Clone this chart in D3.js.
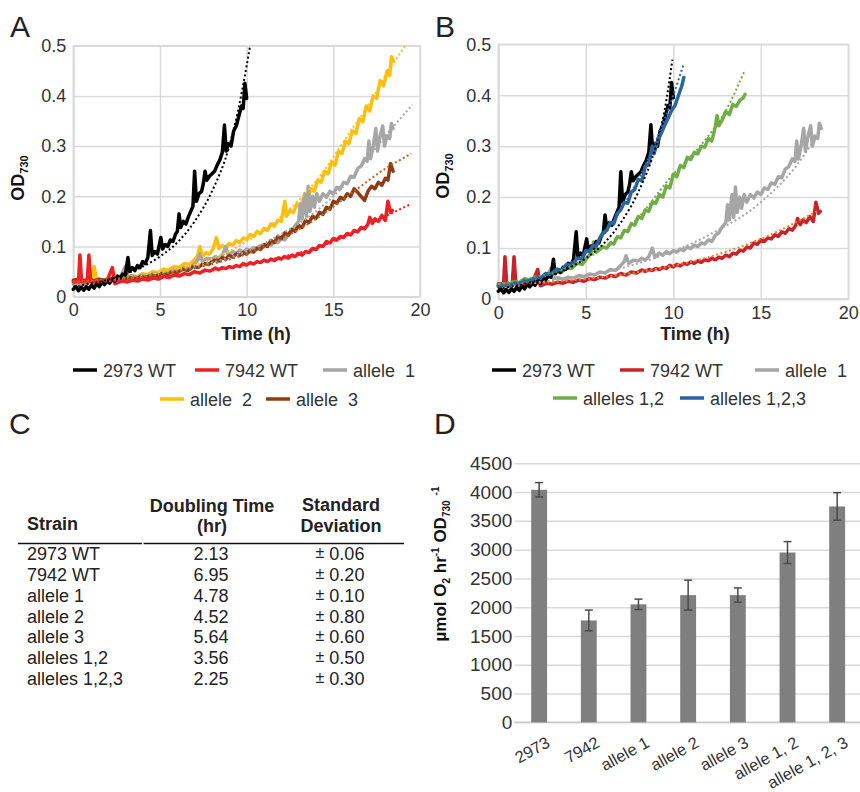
<!DOCTYPE html>
<html><head><meta charset="utf-8">
<script src="https://cdn.jsdelivr.net/npm/d3@7/dist/d3.min.js"></script>
<style>
body{margin:0;background:#fff}
svg text{font-family:"Liberation Sans",Arial,Helvetica,sans-serif}
</style>
</head><body>
<svg id="c" width="860" height="792"></svg>
<script>
// ---------- DATA ----------
// Growth curves: [time (h), OD730]
const wt2973 = [[0,0.015],[0.15,0.02],[0.3,0.012],[0.45,0.019],[0.6,0.013],[0.75,0.02],[0.9,0.015],[1.05,0.023],[1.2,0.017],[1.35,0.026],[1.5,0.02],[1.65,0.029],[1.8,0.024],[1.95,0.032],[2.1,0.027],[2.25,0.036],[2.4,0.031],[2.55,0.041],[2.7,0.037],[2.85,0.045],[3.0,0.043],[3.15,0.078],[3.25,0.05],[3.4,0.058],[3.55,0.052],[3.7,0.062],[3.85,0.058],[4.0,0.07],[4.15,0.066],[4.3,0.078],[4.45,0.132],[4.55,0.082],[4.7,0.09],[4.85,0.085],[5.05,0.118],[5.15,0.095],[5.3,0.104],[5.45,0.1],[5.6,0.113],[5.75,0.11],[5.9,0.125],[6.0,0.13],[6.1,0.165],[6.2,0.138],[6.35,0.15],[6.5,0.145],[6.65,0.16],[6.8,0.172],[6.9,0.18],[7.0,0.25],[7.1,0.19],[7.25,0.205],[7.4,0.21],[7.5,0.225],[7.6,0.25],[7.7,0.232],[7.85,0.24],[8.0,0.245],[8.15,0.25],[8.3,0.262],[8.45,0.272],[8.6,0.288],[8.72,0.342],[8.82,0.29],[8.95,0.305],[9.1,0.3],[9.25,0.33],[9.4,0.34],[9.55,0.36],[9.7,0.38],[9.8,0.375],[9.9,0.425],[10.0,0.395]];
const wt2973TrendA = [[0,0.02],[1,0.026],[2,0.034],[3,0.045],[4,0.06],[5,0.08],[6,0.108],[7,0.15],[8,0.21],[9,0.3],[9.5,0.37],[10,0.46],[10.2,0.5]];
const wt2973TrendB = [[0,0.02],[1,0.026],[2,0.034],[3,0.045],[4,0.06],[5,0.08],[6,0.108],[7,0.15],[8,0.21],[9,0.3],[9.5,0.37],[9.95,0.47]];

const wt7942 = [[0,0.03],[0.3,0.03],[0.38,0.083],[0.48,0.03],[0.8,0.03],[0.9,0.083],[1.0,0.03],[1.4,0.031],[1.9,0.028],[2.25,0.058],[2.4,0.026],[2.8,0.031],[3.1,0.029],[3.4,0.033],[3.7,0.031],[4.0,0.035],[4.3,0.033],[4.6,0.037],[4.9,0.035],[5.2,0.04],[5.5,0.038],[5.8,0.043],[6.1,0.041],[6.4,0.046],[6.7,0.044],[7.0,0.05],[7.3,0.047],[7.6,0.053],[7.9,0.051],[8.2,0.057],[8.4,0.054],[8.6,0.058],[8.8,0.056],[9.0,0.06],[9.2,0.058],[9.4,0.062],[9.6,0.06],[9.8,0.066],[10.0,0.063],[10.2,0.068],[10.4,0.065],[10.6,0.07],[10.8,0.068],[11.0,0.073],[11.2,0.07],[11.4,0.075],[11.6,0.072],[11.8,0.077],[12.0,0.075],[12.2,0.08],[12.4,0.077],[12.6,0.082],[12.8,0.08],[13.0,0.086],[13.2,0.083],[13.4,0.09],[13.6,0.088],[13.8,0.096],[14.0,0.094],[14.2,0.102],[14.4,0.1],[14.6,0.11],[14.8,0.107],[15.0,0.116],[15.2,0.113],[15.4,0.12],[15.6,0.118],[15.8,0.126],[16.0,0.123],[16.2,0.132],[16.4,0.129],[16.6,0.138],[16.8,0.135],[17.0,0.145],[17.1,0.158],[17.25,0.146],[17.4,0.155],[17.6,0.15],[17.8,0.162],[18.0,0.152],[18.15,0.19],[18.3,0.168],[18.4,0.172]];
const wt7942TrendA = [[0,0.027],[2,0.031],[4,0.036],[6,0.043],[8,0.052],[10,0.064],[12,0.079],[14,0.097],[16,0.125],[18,0.16],[19.5,0.185]];
const wt7942TrendB = [[0,0.028],[4,0.036],[8,0.053],[12,0.082],[15,0.118],[18.2,0.172]];

const allele1 = [[0,0.025],[0.3,0.028],[0.6,0.025],[0.9,0.029],[1.2,0.027],[1.5,0.031],[1.8,0.029],[2.1,0.033],[2.4,0.031],[2.65,0.036],[2.8,0.045],[3.0,0.06],[3.15,0.04],[3.4,0.042],[3.7,0.039],[4.0,0.043],[4.3,0.041],[4.6,0.046],[4.9,0.044],[5.2,0.049],[5.5,0.047],[5.8,0.053],[6.1,0.051],[6.4,0.058],[6.7,0.056],[7.0,0.066],[7.2,0.074],[7.3,0.085],[7.45,0.07],[7.7,0.076],[8.0,0.075],[8.2,0.08],[8.4,0.077],[8.6,0.083],[8.8,0.1],[8.95,0.082],[9.2,0.09],[9.4,0.086],[9.6,0.093],[9.8,0.089],[10.0,0.095],[10.2,0.092],[10.4,0.098],[10.6,0.095],[10.8,0.102],[11.0,0.099],[11.2,0.106],[11.4,0.103],[11.6,0.11],[11.8,0.108],[12.0,0.116],[12.2,0.113],[12.4,0.125],[12.6,0.13],[12.8,0.142],[13.0,0.15],[13.1,0.185],[13.2,0.155],[13.35,0.205],[13.45,0.16],[13.55,0.22],[13.65,0.17],[13.8,0.2],[13.9,0.178],[14.05,0.205],[14.2,0.19],[14.4,0.205],[14.6,0.198],[14.8,0.21],[15.0,0.205],[15.2,0.218],[15.4,0.215],[15.6,0.228],[15.8,0.225],[16.0,0.24],[16.2,0.238],[16.4,0.255],[16.6,0.26],[16.8,0.275],[16.95,0.27],[17.05,0.31],[17.15,0.275],[17.3,0.3],[17.45,0.335],[17.55,0.29],[17.7,0.32],[17.85,0.34],[17.95,0.3],[18.1,0.32],[18.25,0.315],[18.35,0.345],[18.45,0.335]];
const allele1TrendA = [[0,0.025],[2,0.031],[4,0.04],[6,0.052],[8,0.068],[10,0.09],[12,0.125],[14,0.17],[16,0.235],[18,0.32],[19.55,0.382]];
const allele1TrendB = [[0,0.028],[4,0.04],[8,0.07],[12,0.125],[15,0.19],[17,0.26],[18.2,0.32]];

const allele2 = [[0,0.03],[0.5,0.032],[1.0,0.03],[1.2,0.06],[1.35,0.032],[1.6,0.034],[1.9,0.032],[2.2,0.036],[2.5,0.034],[2.8,0.039],[3.1,0.037],[3.4,0.042],[3.7,0.04],[4.0,0.046],[4.3,0.044],[4.6,0.05],[4.9,0.048],[5.2,0.055],[5.5,0.053],[5.8,0.06],[6.1,0.058],[6.4,0.066],[6.7,0.064],[7.0,0.074],[7.15,0.08],[7.3,0.1],[7.45,0.08],[7.65,0.088],[7.85,0.085],[8.05,0.094],[8.25,0.118],[8.4,0.096],[8.6,0.102],[8.8,0.098],[9.0,0.106],[9.2,0.103],[9.4,0.112],[9.6,0.108],[9.8,0.117],[10.0,0.114],[10.2,0.124],[10.4,0.12],[10.6,0.13],[10.8,0.126],[11.0,0.136],[11.2,0.132],[11.4,0.145],[11.6,0.14],[11.8,0.152],[12.0,0.15],[12.2,0.19],[12.3,0.16],[12.5,0.172],[12.7,0.168],[12.9,0.185],[13.1,0.18],[13.3,0.198],[13.5,0.192],[13.7,0.215],[13.9,0.21],[14.1,0.232],[14.3,0.228],[14.5,0.25],[14.7,0.245],[14.9,0.268],[15.1,0.262],[15.3,0.29],[15.5,0.285],[15.7,0.31],[15.9,0.305],[16.1,0.33],[16.3,0.325],[16.5,0.355],[16.7,0.348],[16.9,0.38],[17.1,0.37],[17.3,0.4],[17.5,0.395],[17.7,0.43],[17.9,0.42],[18.1,0.45],[18.25,0.44],[18.35,0.478],[18.45,0.47]];
const allele2TrendA = [[0,0.028],[2,0.034],[4,0.042],[6,0.055],[8,0.075],[10,0.11],[12,0.16],[14,0.23],[16,0.33],[17,0.38],[18,0.44],[19.15,0.5]];

const allele3 = [[0,0.033],[0.3,0.035],[0.6,0.032],[0.9,0.035],[1.2,0.032],[1.5,0.035],[1.8,0.033],[2.1,0.036],[2.4,0.034],[2.7,0.037],[3.0,0.035],[3.3,0.038],[3.6,0.036],[3.9,0.04],[4.2,0.038],[4.5,0.043],[4.8,0.041],[5.1,0.046],[5.4,0.044],[5.7,0.05],[6.0,0.048],[6.3,0.055],[6.6,0.052],[6.9,0.06],[7.2,0.058],[7.5,0.066],[7.8,0.064],[8.0,0.07],[8.2,0.074],[8.4,0.071],[8.6,0.078],[8.8,0.075],[9.0,0.082],[9.2,0.079],[9.4,0.085],[9.6,0.082],[9.8,0.088],[10.0,0.085],[10.2,0.092],[10.4,0.089],[10.6,0.097],[10.8,0.094],[11.0,0.104],[11.2,0.1],[11.4,0.112],[11.6,0.108],[11.8,0.12],[12.0,0.116],[12.2,0.127],[12.4,0.122],[12.6,0.134],[12.8,0.13],[13.0,0.142],[13.2,0.138],[13.4,0.152],[13.6,0.148],[13.8,0.16],[14.0,0.156],[14.2,0.168],[14.4,0.164],[14.6,0.178],[14.8,0.174],[15.0,0.19],[15.2,0.186],[15.4,0.198],[15.6,0.194],[15.8,0.205],[16.0,0.2],[16.2,0.215],[16.4,0.208],[16.6,0.2],[16.8,0.192],[17.0,0.21],[17.2,0.22],[17.4,0.215],[17.6,0.228],[17.8,0.222],[18.0,0.236],[18.15,0.232],[18.3,0.265],[18.45,0.25]];
const allele3TrendA = [[0,0.03],[2,0.034],[4,0.04],[6,0.05],[8,0.065],[10,0.085],[12,0.115],[14,0.155],[16,0.205],[18,0.255],[19.5,0.285]];

const alleles12 = [[0,0.027],[0.3,0.03],[0.6,0.028],[0.9,0.034],[1.2,0.032],[1.5,0.04],[1.8,0.037],[2.1,0.043],[2.4,0.041],[2.7,0.048],[3.0,0.046],[3.3,0.054],[3.6,0.052],[3.9,0.062],[4.2,0.06],[4.5,0.07],[4.8,0.068],[5.1,0.082],[5.3,0.09],[5.45,0.112],[5.6,0.092],[5.8,0.098],[6.0,0.102],[6.2,0.1],[6.4,0.11],[6.6,0.108],[6.8,0.122],[7.0,0.12],[7.2,0.135],[7.4,0.132],[7.6,0.148],[7.8,0.145],[8.0,0.162],[8.2,0.158],[8.4,0.175],[8.6,0.172],[8.8,0.19],[9.0,0.188],[9.2,0.205],[9.4,0.2],[9.6,0.222],[9.8,0.218],[10.0,0.245],[10.2,0.24],[10.4,0.262],[10.6,0.258],[10.8,0.278],[11.0,0.274],[11.2,0.288],[11.4,0.285],[11.6,0.3],[11.8,0.298],[12.0,0.315],[12.2,0.31],[12.4,0.338],[12.5,0.36],[12.6,0.34],[12.8,0.352],[13.0,0.368],[13.2,0.362],[13.4,0.382],[13.6,0.378],[13.8,0.39],[14.0,0.395],[14.1,0.402]];
const alleles12TrendB = [[0,0.03],[2,0.042],[4,0.062],[6,0.1],[8,0.16],[10,0.245],[11,0.28],[12,0.32],[13,0.37],[14.1,0.45]];

const alleles123 = [[0,0.025],[0.3,0.028],[0.6,0.026],[0.9,0.032],[1.2,0.03],[1.5,0.037],[1.8,0.035],[2.1,0.042],[2.4,0.04],[2.7,0.05],[3.0,0.048],[3.3,0.058],[3.6,0.056],[3.9,0.068],[4.2,0.066],[4.5,0.08],[4.8,0.078],[5.0,0.095],[5.2,0.093],[5.4,0.105],[5.6,0.103],[5.8,0.12],[6.0,0.13],[6.2,0.135],[6.4,0.15],[6.6,0.148],[6.8,0.168],[7.0,0.175],[7.2,0.19],[7.4,0.188],[7.6,0.21],[7.8,0.215],[8.0,0.235],[8.2,0.232],[8.4,0.26],[8.6,0.265],[8.8,0.3],[8.9,0.285],[9.1,0.31],[9.3,0.325],[9.5,0.34],[9.7,0.355],[9.9,0.37],[10.1,0.38],[10.3,0.4],[10.5,0.42],[10.6,0.435]];
const alleles123TrendB = [[0,0.025],[2,0.04],[4,0.068],[6,0.125],[7,0.175],[8,0.235],[9,0.31],[10,0.4],[10.6,0.462]];

const timeTicks = [0,5,10,15,20];
const odTicks = [0,0.1,0.2,0.3,0.4,0.5];
const odTickLabels = ["0","0.1","0.2","0.3","0.4","0.5"];

// Panel C table
const tableStrains = ["2973 WT","7942 WT","allele 1","allele 2","allele 3","alleles 1,2","alleles 1,2,3"];
const doublingTimes = ["2.13","6.95","4.78","4.52","5.64","3.56","2.25"];
const stdDevs = ["0.06","0.20","0.10","0.80","0.60","0.50","0.30"];

// Panel D bars
const o2Categories = ["2973","7942","allele 1","allele 2","allele 3","allele 1, 2","allele 1, 2, 3"];
const o2Values = [4040,1770,2050,2210,2210,2950,3750];
const o2Errors = [125,180,90,260,125,190,240];
const o2Ticks = [0,500,1000,1500,2000,2500,3000,3500,4000,4500];

// ---------- DRAWING ----------
const svg = d3.select("#c");
const TXT = "#333";
const GRID = "#d9d9d9";

function growthPanel(o){
  const x = d3.scaleLinear().domain([0,20]).range([o.left,o.right]);
  const y = d3.scaleLinear().domain([0,0.5]).range([o.bottom,o.top]);
  const g = svg.append("g");
  const gx = g.append("g").attr("transform",`translate(0,${o.bottom})`)
    .call(d3.axisBottom(x).tickValues(timeTicks).tickSize(-(o.bottom-o.top)).tickSizeOuter(0).tickPadding(o.xpad).tickFormat(d3.format("d")));
  const gy = g.append("g").attr("transform",`translate(${o.left},0)`)
    .call(d3.axisLeft(y).tickValues(odTicks).tickSize(-(o.right-o.left)).tickSizeOuter(0).tickPadding(7).tickFormat((d,i)=>odTickLabels[i]));
  [gx,gy].forEach(a=>{
    a.selectAll(".domain").attr("stroke",GRID).attr("stroke-width",1.5);
    a.selectAll(".tick line").attr("stroke",GRID).attr("stroke-width",1.5);
    a.selectAll("text").attr("font-size",18).attr("fill",TXT).attr("font-family",'"Liberation Sans",Arial,sans-serif');
  });
  g.append("rect").attr("x",o.left).attr("y",o.top).attr("width",o.right-o.left).attr("height",o.bottom-o.top)
    .attr("fill","none").attr("stroke",GRID).attr("stroke-width",1.5);
  const line = d3.line().x(d=>x(d[0])).y(d=>y(d[1]));
  const tline = d3.line().x(d=>x(d[0])).y(d=>y(d[1])).curve(d3.curveMonotoneX);
  const lg = g.append("g");
  o.series.forEach(s=>{
    lg.append("path").datum(s.data).attr("d",line).attr("fill","none").attr("stroke",s.color)
      .attr("stroke-width",3.5).attr("stroke-linejoin","round").attr("stroke-linecap","round");
  });
  o.series.forEach(s=>{
    if(!s.trend) return;
    lg.append("path").datum(s.trend).attr("d",tline).attr("fill","none").attr("stroke",s.tcolor||s.color)
      .attr("stroke-width",2).attr("stroke-dasharray","2 2.5");
  });
  const t = g.append("text").attr("transform",`translate(${o.ylabX},${o.ylabY}) rotate(-90)`)
    .attr("text-anchor","middle").attr("font-weight","bold").attr("font-size",18).attr("fill","#111");
  t.append("tspan").text("OD");
  t.append("tspan").attr("font-size",11).attr("dy",4).text("730");
  g.append("text").attr("x",o.xtX).attr("y",340).attr("text-anchor","middle").attr("font-weight","bold")
    .attr("font-size",18).attr("fill","#222").text("Time (h)");
  g.append("text").attr("x",o.letterX).attr("y",37).attr("font-size",30).attr("fill","#222").text(o.letter);
  o.legend.forEach(l=>{
    g.append("line").attr("x1",l.x).attr("x2",l.x+24).attr("y1",l.y).attr("y2",l.y).attr("stroke",l.color).attr("stroke-width",3.5);
    g.append("text").attr("x",l.x+30).attr("y",l.y+6.5).attr("font-size",18).attr("fill",TXT).text(l.name);
  });
}

const cBlack="#000000", cRedA="#ee2026", cRedB="#c8232b", cGrey="#a6a6a6", cYellow="#ffbf0f", cBrown="#8c3b14", cGreen="#70ad47", cBlue="#2a65a0";

growthPanel({left:73.3,right:420,top:45.7,bottom:296.7,xpad:7,ylabX:24,ylabY:178,xtX:256,letter:"A",letterX:10,
  series:[
    {data:allele2,color:cYellow,trend:allele2TrendA},
    {data:allele1,color:cGrey,trend:allele1TrendA},
    {data:allele3,color:cBrown,trend:allele3TrendA,tcolor:"#c0601e"},
    {data:wt7942,color:cRedA,trend:wt7942TrendA},
    {data:wt2973,color:cBlack,trend:wt2973TrendA}
  ],
  legend:[
    {x:73,y:370,color:cBlack,name:"2973 WT"},
    {x:195,y:370,color:cRedA,name:"7942 WT"},
    {x:323,y:370,color:cGrey,name:"allele  1"},
    {x:160,y:399,color:cYellow,name:"allele  2"},
    {x:266,y:399,color:cBrown,name:"allele  3"}
  ]});

growthPanel({left:498.3,right:848.3,top:44.3,bottom:299,xpad:7.5,ylabX:449,ylabY:176,xtX:695,letter:"B",letterX:435,
  series:[
    {data:allele1,color:cGrey,trend:allele1TrendB},
    {data:wt7942,color:cRedB,trend:wt7942TrendB,tcolor:"#ed7d31"},
    {data:alleles12,color:cGreen,trend:alleles12TrendB},
    {data:wt2973,color:cBlack,trend:wt2973TrendB},
    {data:alleles123,color:cBlue,trend:alleles123TrendB}
  ],
  legend:[
    {x:492,y:370,color:cBlack,name:"2973 WT"},
    {x:620,y:370,color:cRedB,name:"7942 WT"},
    {x:755,y:370,color:cGrey,name:"allele  1"},
    {x:553,y:398,color:cGreen,name:"alleles 1,2"},
    {x:680,y:398,color:cBlue,name:"alleles 1,2,3"}
  ]});

svg.selectAll("text").style("white-space","pre");

// ---------- Panel C table ----------
const tc = svg.append("g");
tc.append("text").attr("x",9).attr("y",434).attr("font-size",30).attr("fill","#222").text("C");
function ht(x,y,s,anchor){ tc.append("text").attr("x",x).attr("y",y).attr("text-anchor",anchor||"start")
  .attr("font-size",18).attr("font-weight","bold").attr("fill","#222").text(s); }
ht(27,530,"Strain");
ht(212,512,"Doubling Time","middle");
ht(212,532,"(hr)","middle");
ht(341,511,"Standard","middle");
ht(341,532,"Deviation","middle");
tc.append("line").attr("x1",18).attr("x2",142).attr("y1",543.5).attr("y2",543.5).attr("stroke","#111").attr("stroke-width",1.5);
tc.append("line").attr("x1",143.5).attr("x2",404).attr("y1",543.5).attr("y2",543.5).attr("stroke","#111").attr("stroke-width",1.5);
const rowY = d3.scalePoint().domain(tableStrains).range([560,685]);
tableStrains.forEach((s,i)=>{
  const yy = rowY(s);
  tc.append("text").attr("x",27).attr("y",yy).attr("font-size",18).attr("fill","#222").text(s);
  tc.append("text").attr("x",211).attr("y",yy).attr("text-anchor","middle").attr("font-size",18).attr("fill","#222").text(doublingTimes[i]);
  const sd = tc.append("text").attr("x",340).attr("y",yy).attr("text-anchor","middle").attr("font-size",18).attr("fill","#222");
  sd.append("tspan").attr("font-size",16).attr("dy",-2).text("±");
  sd.append("tspan").attr("dy",2).text(" "+stdDevs[i]);
});

// ---------- Panel D bars ----------
const gd = svg.append("g");
gd.append("text").attr("x",434).attr("y",434).attr("font-size",30).attr("fill","#222").text("D");
const yD = d3.scaleLinear().domain([0,4500]).range([722.3,463.3]);
const xD = d3.scaleBand().domain(o2Categories).range([514.3,862]).paddingInner(0.68).paddingOuter(0.34);
const gdy = gd.append("g").attr("transform","translate(514.3,0)")
  .call(d3.axisLeft(yD).tickValues(o2Ticks).tickSize(-(860-514.3)).tickSizeOuter(0).tickPadding(2).tickFormat(d3.format("d")));
gdy.select(".domain").remove();
gdy.selectAll(".tick line").attr("stroke",GRID).attr("stroke-width",1.5);
gdy.selectAll("text").attr("font-size",19).attr("fill",TXT).attr("font-family",'"Liberation Sans",Arial,sans-serif');
gd.append("line").attr("x1",514.3).attr("x2",860).attr("y1",yD(0)).attr("y2",yD(0)).attr("stroke","#c8c8c8").attr("stroke-width",1.5);
gd.selectAll("rect.bar").data(o2Values).join("rect").attr("class","bar")
  .attr("x",(d,i)=>xD(o2Categories[i])).attr("width",xD.bandwidth())
  .attr("y",d=>yD(d)).attr("height",d=>yD(0)-yD(d)).attr("fill","#7f7f7f");
o2Values.forEach((v,i)=>{
  const cx = xD(o2Categories[i])+xD.bandwidth()/2;
  const e = gd.append("g").attr("stroke","#4a4a4a").attr("stroke-width",1.5);
  e.append("line").attr("x1",cx).attr("x2",cx).attr("y1",yD(v+o2Errors[i])).attr("y2",yD(v-o2Errors[i]));
  e.append("line").attr("x1",cx-4).attr("x2",cx+4).attr("y1",yD(v+o2Errors[i])).attr("y2",yD(v+o2Errors[i]));
  e.append("line").attr("x1",cx-4).attr("x2",cx+4).attr("y1",yD(v-o2Errors[i])).attr("y2",yD(v-o2Errors[i]));
  gd.append("text").attr("transform",`translate(${cx+12},746) rotate(-29)`).attr("text-anchor","end")
    .attr("font-size",16.5).attr("fill",TXT).text(o2Categories[i]);
});
const yl = gd.append("text").attr("transform","translate(446,564) rotate(-90)").attr("text-anchor","middle")
  .attr("font-weight","bold").attr("font-size",17).attr("fill","#111");
yl.append("tspan").text("µmol O");
yl.append("tspan").attr("font-size",10).attr("dy",4).text("2");
yl.append("tspan").attr("dy",-4).text(" hr");
yl.append("tspan").attr("font-size",10).attr("dy",-7).text("-1");
yl.append("tspan").attr("dy",7).text(" OD");
yl.append("tspan").attr("font-size",10).attr("dy",4).text("730");
yl.append("tspan").attr("font-size",10).attr("dx",5).attr("dy",-11).text("-1");
</script>
</body></html>
